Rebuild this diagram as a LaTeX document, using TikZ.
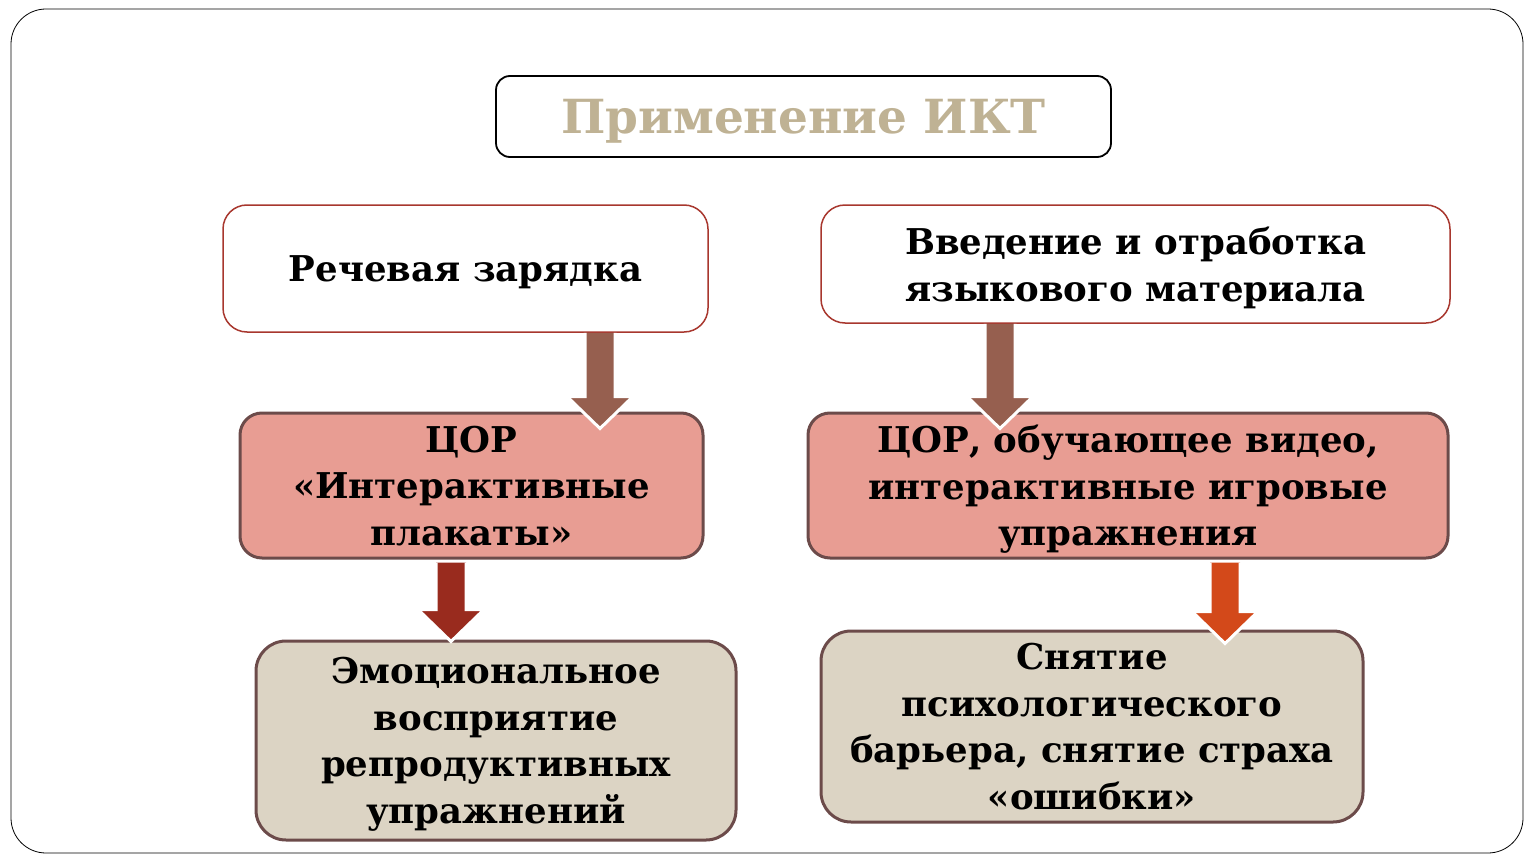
\documentclass[tikz,border=0pt]{standalone}
\usepackage{fontspec}
\setmainfont{DejaVu Serif}
\usetikzlibrary{calc}
\definecolor{titletan}{HTML}{BFB294}
\definecolor{topred}{HTML}{A8372E}
\definecolor{boxedge}{HTML}{6C4B4A}
\definecolor{pinkfill}{HTML}{E89D93}
\definecolor{sandfill}{HTML}{DCD4C4}
\definecolor{arrowbrown}{HTML}{965F4F}
\definecolor{arrowred}{HTML}{992B1E}
\definecolor{arroworange}{HTML}{D3491A}
% block arrow: colour, start, tip
\newcommand{\blockarrow}[3]{%
  \filldraw[white, line width=3pt, fill=#1, line join=miter]
    let \p1=(#2), \p2=(#3) in
    (\x1-15pt,\y1) -- (\x1-15pt,\y2+32pt) -- (\x1-33pt,\y2+32pt) -- (\x1,\y2)
    -- (\x1+33pt,\y2+32pt) -- (\x1+15pt,\y2+32pt) -- (\x1+15pt,\y1);}
\begin{document}
\begin{tikzpicture}[x=1pt,y=-1pt]
        \tikzstyle{every node}=[align=center, inner sep=0pt, text depth=0pt, font=\fontsize{35.5}{46.5}\selectfont\bfseries];
        \tikzstyle{title}=[draw=black, line width=1.8pt, rounded corners=14pt, text=titletan, font=\fontsize{47}{50}\selectfont\bfseries];
        \tikzstyle{topbox}=[draw=topred, line width=1.5pt, fill=white, rounded corners=24pt];
        \tikzstyle{midbox}=[draw=boxedge, line width=3pt, fill=pinkfill, rounded corners=22pt];
        \tikzstyle{lowbox}=[draw=boxedge, line width=3pt, fill=sandfill, rounded corners=30pt];
        \useasboundingbox (0,0) rectangle (1533,864);
        \draw[line width=0.8pt, rounded corners=35pt] (11,9) rectangle (1523,853);
        \node[title, minimum width=615, minimum height=81] (ikt) at (803.5,116.5) {Применение ИКТ};
        \node[topbox, minimum width=485, minimum height=127] (speech) at (465.5,268.5) {Речевая зарядка};
        \node[topbox, minimum width=629, minimum height=118] (lang) at (1135.5,264) {Введение и отработка\\языкового материала};
        \node[midbox, minimum width=463, minimum height=145] (posters) at (471.5,485.5) {ЦОР\\«Интерактивные\\плакаты»};
        \node[midbox, minimum width=640, minimum height=145] (video) at (1128,485.5) {ЦОР, обучающее видео,\\интерактивные игровые\\упражнения};
        \node[lowbox, minimum width=480, minimum height=199] (emotion) at (496,740.5) {Эмоциональное\\восприятие\\репродуктивных\\упражнений};
        \node[lowbox, minimum width=542, minimum height=191] (barrier) at (1092,726.5) {Снятие\\психологического\\барьера, снятие страха\\«ошибки»};
        \blockarrow{arrowbrown}{[xshift=134.5pt]speech.south}{[yshift=-17pt]posters.north}
        \blockarrow{arrowbrown}{[xshift=-135.5pt]lang.south}{[yshift=-17pt]video.north}
        \blockarrow{arrowred}{[xshift=-20.5pt,yshift=-3pt]posters.south}{[yshift=-2pt]emotion.north}
        \blockarrow{arroworange}{[xshift=97pt,yshift=-3pt]video.south}{[yshift=-14pt]barrier.north}
\end{tikzpicture}
\end{document}
